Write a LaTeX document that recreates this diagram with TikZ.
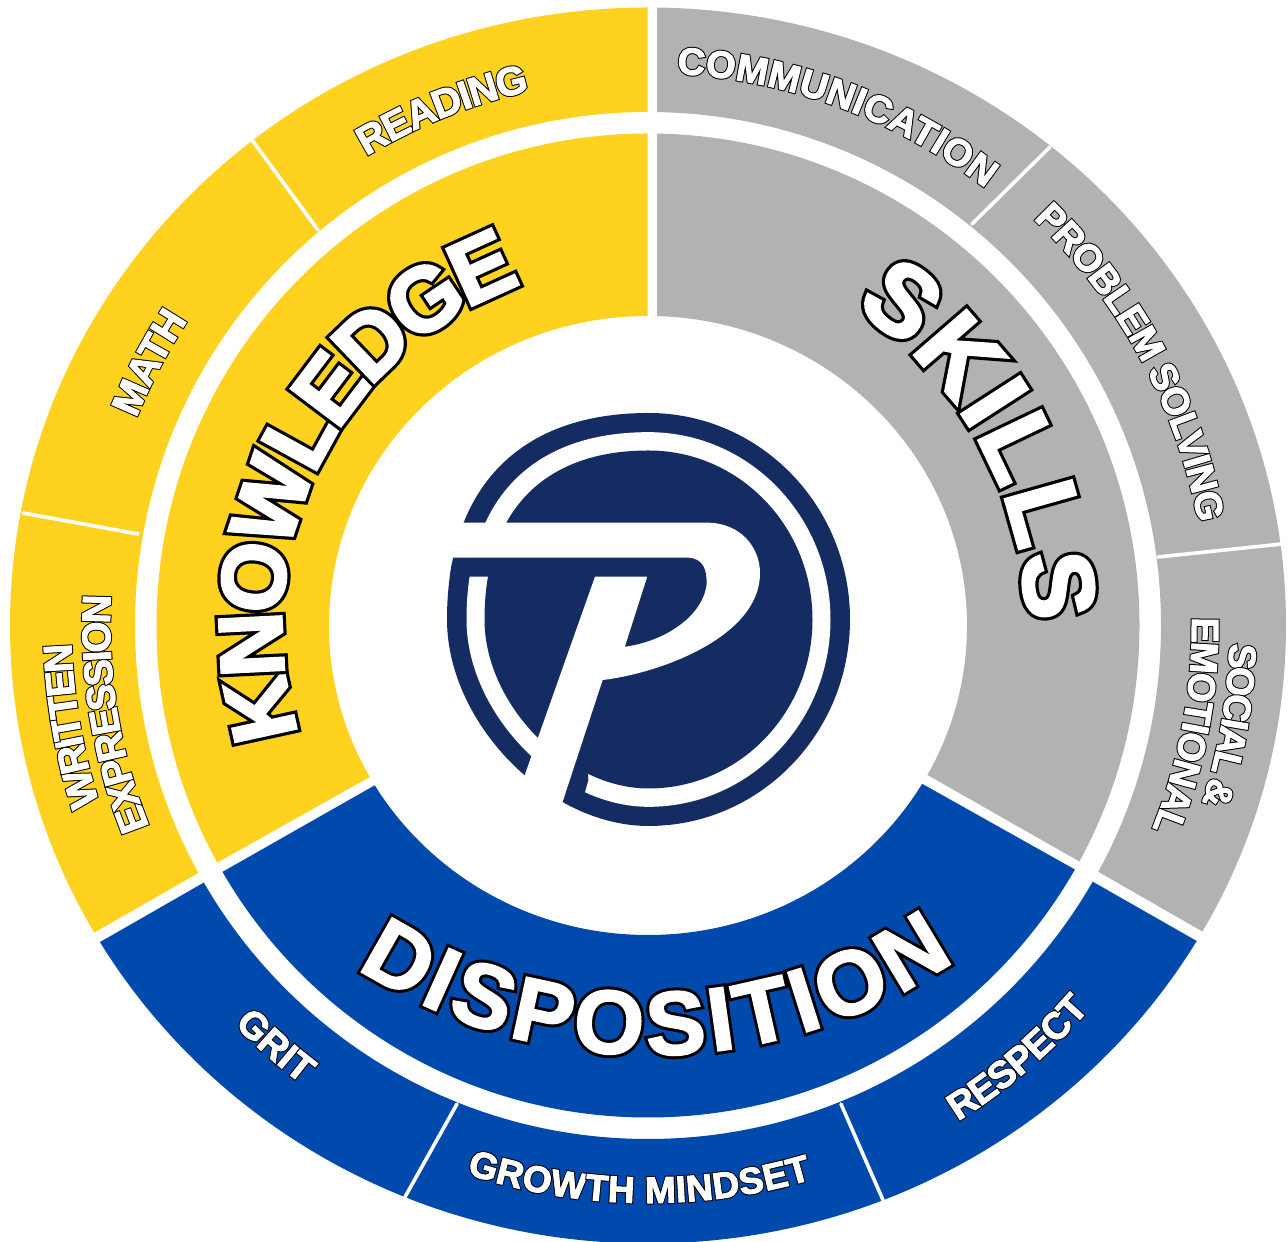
\documentclass[tikz,border=0pt]{standalone}
\usepackage{fontspec}
\setmainfont{Liberation Sans}
\newfontfamily\lab{Liberation Sans}[UprightFont=*,BoldFont=* Bold]
\definecolor{gold}{HTML}{FFD21F}
\definecolor{greyseg}{HTML}{B2B2B2}
\definecolor{blueseg}{HTML}{014AAD}
\definecolor{navy}{HTML}{152C62}
\makeatletter
\newcommand\addtopre[1]{\expandafter\g@addto@macro\expandafter\lpre\expandafter{#1}}
\makeatother
\newbox\lbox
\newcommand\lfont[1]{\lab\bfseries\fontsize{#1}{#1}\selectfont}
\newcommand\lmeasure[3]{% macro, size, text
  \pgfinterruptpicture\global\setbox\lbox\hbox{\lfont{#2}#3}\endpgfinterruptpicture
  \edef#1{\the\wd\lbox}\pgfmathsetmacro#1{#1}}
% centre x, centre y (image px), radius, start, end, size, outline, fattening, letters (comma list)
\newcommand\ctext[9]{%
  \gdef\lpre{}\gdef\cnt{0}%
  \foreach \ltr in {#9}{\addtopre{\ltr}\pgfmathtruncatemacro\tmp{\cnt+1}\global\let\cnt\tmp}%
  \lmeasure\wa{#6}{\lpre}%
  \pgfmathsetmacro\arclen{abs(#5-#4)*pi/180*#3}%
  \pgfmathsetmacro\sgn{#5>#4?1:-1}%
  \pgfmathsetmacro\gap{(\arclen-\wa)/(\cnt-1)}%
  \gdef\lpre{}\gdef\idx{0}%
  \foreach \ltr in {#9}{%
    \addtopre{\ltr}%
    \lmeasure\wa{#6}{\lpre}%
    \lmeasure\wb{#6}{\ltr}%
    \pgfmathsetmacro\mids{\wa-\wb/2+\idx*\gap}%
    \pgfmathsetmacro\ang{#4+\sgn*\mids/#3*180/pi}%
    \pgfmathsetmacro\lx{#1+#3*cos(\ang)}%
    \pgfmathsetmacro\ly{1242-#2+#3*sin(\ang)}%
    \pgfmathsetmacro\rot{\ang+\sgn*90}%
    \pgfmathsetmacro\wblack{#8+2*#7}%
    \pgftext[base,at={\pgfpoint{\lx pt}{\ly pt}},rotate=\rot]{\lfont{#6}\special{pdf:code 2 Tr \wblack\space w 0 j 3 M 0 0 0 RG 0 0 0 rg}\ltr\special{pdf:code 0 Tr}}%
    \pgftext[base,at={\pgfpoint{\lx pt}{\ly pt}},rotate=\rot]{\lfont{#6}\special{pdf:code 2 Tr #8 w 0 j 3 M 1 1 1 RG 1 1 1 rg}\ltr\special{pdf:code 0 Tr 0 0 0 RG 0 0 0 rg}}%
    \pgfmathtruncatemacro\tmp{\idx+1}\global\let\idx\tmp
  }}
% logo disc with its own bulge per quadrant
\newcommand\logodisc[3]{% action, rx, ry
  \pgfmathsetmacro\xx{#2}\pgfmathsetmacro\yy{#3}%
  \path[#1] (685.5,688.5-\yy)
    .. controls (685.5-.64*\xx,688.5-\yy) and (685.5-\xx,688.5-.64*\yy) .. (685.5-\xx,688.5)
    .. controls (685.5-\xx,688.5+.5*\yy) and (685.5-.5*\xx,688.5+\yy) .. (685.5,688.5+\yy)
    .. controls (685.5+.5523*\xx,688.5+\yy) and (685.5+\xx,688.5+.5523*\yy) .. (685.5+\xx,688.5)
    .. controls (685.5+\xx,688.5-.5523*\yy) and (685.5+.5523*\xx,688.5-\yy) .. (685.5,688.5-\yy) -- cycle;}
\tikzset{
  divider/.style={draw=white,line width=3.6pt,line cap=round},
}
\begin{document}
\begin{tikzpicture}[x=1pt,y=1pt]
\useasboundingbox (0,0) rectangle (1288,1242);
\begin{scope}[yshift=1242pt,y=-1pt]
  \clip (0,0) rectangle (1288,1242);
  % outer ring
  \begin{scope}
    \clip (647.5,-100) -- (647.5,616) -- (-200,1101) -- (-200,-100) -- cycle;
    \fill[gold,even odd rule] (648,625.5) ellipse [x radius=638,y radius=618] (648,625.5) ellipse [x radius=513,y radius=513.5];
  \end{scope}
  \begin{scope}
    \clip (657,-100) -- (657,619) -- (1500,1102) -- (1500,-100) -- cycle;
    \fill[greyseg,even odd rule] (648,625.5) ellipse [x radius=638,y radius=618] (648,625.5) ellipse [x radius=513,y radius=513.5];
  \end{scope}
  \begin{scope}
    \clip (648,628) -- (-200,1114) -- (-200,1500) -- (1500,1500) -- (1500,1114) -- cycle;
    \fill[blueseg,even odd rule] (648,625.5) ellipse [x radius=638,y radius=618] (648,625.5) ellipse [x radius=513,y radius=513.5];
  \end{scope}
  % inner ring
  \begin{scope}
    \clip (647.5,-100) -- (647.5,621) -- (-200,1097) -- (-200,-100) -- cycle;
    \fill[gold,even odd rule] (648,625.5) ellipse [x radius=491.5,y radius=492] (648,625.5) ellipse [x radius=319,y radius=309.5];
  \end{scope}
  \begin{scope}
    \clip (657,-100) -- (657,621) -- (1500,1101) -- (1500,-100) -- cycle;
    \fill[greyseg,even odd rule] (648,625.5) ellipse [x radius=491.5,y radius=492] (648,625.5) ellipse [x radius=319,y radius=309.5];
  \end{scope}
  \begin{scope}
    \clip (648,630) -- (-200,1112) -- (-200,1500) -- (1500,1500) -- (1500,1108) -- cycle;
    \fill[blueseg,even odd rule] (648,625.5) ellipse [x radius=491.5,y radius=492] (648,625.5) ellipse [x radius=319,y radius=309.5];
  \end{scope}
  % dividers
  \draw[divider] (23,513) -- (138,534);
  \draw[divider] (252,140) -- (318,230);
  \draw[divider] (1050,147) -- (972,224);
  \draw[divider] (1282,544) -- (1158,557);
  \draw[divider] (457,1104) -- (405,1197);
  \draw[divider] (841,1104) -- (883,1200);
  % logo (coordinates of the 3x crop)
  \begin{scope}[shift={(420,390)},x=0.33333pt,y=-0.33333pt]
    \logodisc{fill=navy}{604.5}{619.5}
    \logodisc{fill=white}{546}{562}
    \logodisc{fill=navy}{492}{507}
    \fill[navy] (505,1170) -- (490,1225) -- (420,1225) -- (440,1100) -- (500,1100) -- cycle;
    \fill[white] (20,398) -- (860,398) .. controls (960,398) and (1020,470) .. (1020,550)
      .. controls (1020,740) and (720,850) .. (548,870) -- (400,1320) -- (270,1280) -- (525,560) -- (525,450) -- (20,450) -- cycle;
    \fill[white] (20,398) rectangle (800,520);
    \begin{scope}
      \logodisc{clip}{604.5}{619.5}
      \fill[navy] (0,503) -- (800,503) .. controls (850,503) and (860,540) .. (860,580)
        .. controls (850,680) and (730,755) .. (615,770) -- (682,560) -- (0,560) -- cycle;
    \end{scope}
  \end{scope}
\end{scope}
% labels
\ctext{648}{625}{547}{121}{102.5}{40}{1}{1}{R,E,A,D,I,N,G}
\ctext{648}{625}{552}{158}{146.5}{40}{1}{1}{M,A,T,H}
\ctext{648}{625}{552}{87}{52.3}{38}{1}{1}{C,O,M,M,U,N,I,C,A,T,I,O,N}
\ctext{648}{625}{560}{46.5}{10.5}{38}{1}{1}{P,R,O,B,L,E,M,~,S,O,L,V,I,N,G}
\ctext{648}{625}{582}{-1.8}{-17.8}{38}{1}{1}{S,O,C,I,A,L,~,\&}
\ctext{648}{625}{544}{0.8}{-22}{38}{1}{1}{E,M,O,T,I,O,N,A,L}
\ctext{648}{625}{577}{198}{181.8}{40}{1}{1}{W,R,I,T,T,E,N}
\ctext{648}{625}{538}{202}{176.8}{40}{1}{1}{E,X,P,R,E,S,S,I,O,N}
\ctext{648}{625}{575}{224}{233}{38}{1}{1}{G,R,I,T}
\ctext{648}{625}{578}{251.7}{286.5}{37}{1}{1}{G,R,O,W,T,H,~,M,I,N,D,S,E,T}
\ctext{648}{625}{585}{302}{319}{38}{1}{1}{R,E,S,P,E,C,T}
\ctext{650}{517}{538}{237}{304.5}{90}{3}{2}{D,I,S,P,O,S,I,T,I,O,N}
\ctext{644}{625}{362}{197.5}{109.7}{90}{3.2}{3}{K,N,O,W,L,E,D,G,E}
\ctext{648}{625}{378}{57}{0.5}{100}{3.2}{3}{S,K,I,L,L,S}
\end{tikzpicture}
\end{document}
